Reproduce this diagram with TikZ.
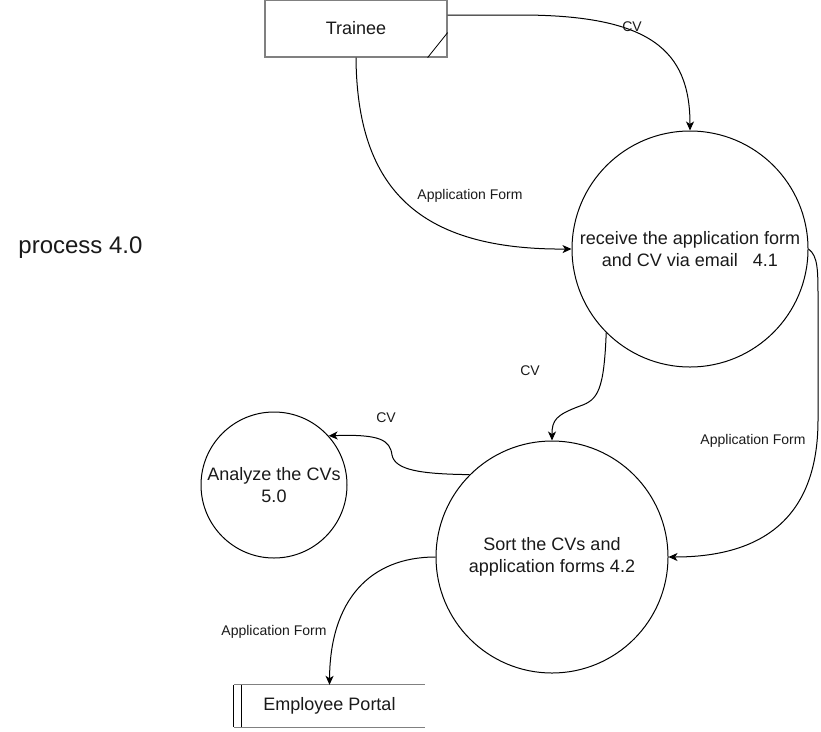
\documentclass[tikz,border=0pt]{standalone}
\usepackage{fontspec}
\setmainfont{Liberation Sans}
\usetikzlibrary{arrows.meta,calc}
\definecolor{boxgray}{HTML}{808080}
\definecolor{txt}{HTML}{1A1A1A}
\begin{document}
\begin{tikzpicture}[x=1pt,y=-1pt,
  proc/.style={draw=black, line width=1pt, circle, inner sep=0pt, align=center, text=txt, font=\fontsize{18}{22}\selectfont},
  flow/.style={draw=black, line width=1pt, -{Stealth[length=9pt,width=8pt,inset=2.5pt]}},
  lbl/.style={font=\fontsize{14}{16}\selectfont, inner sep=0pt, text=txt},
  ]
\useasboundingbox[fill=white] (0,0) rectangle (821,731);

% external entity
\node[draw=boxgray, line width=1.2pt, minimum width=182pt, minimum height=57pt, inner sep=0pt,
      text=txt, font=\fontsize{18}{22}\selectfont] (tr) at (356,28.5) {Trainee};
\draw[line width=0.8pt] ([xshift=-20pt]tr.south east) -- ([yshift=25pt]tr.south east);

% processes
\node[proc, minimum size=236pt] (p41) at (690,249) {receive the application form\\and CV via email\ \ \ 4.1};
\node[proc, minimum size=232pt] (p42) at (552,557) {Sort the CVs and\\application forms 4.2};
\node[proc, minimum size=146pt] (p50) at (274,485) {Analyze the CVs\\5.0};

% data store
\node[minimum width=191pt, minimum height=42pt, inner sep=0pt, text=txt,
      font=\fontsize{18}{22}\selectfont] (ep) at (329.5,706) {Employee Portal};
\draw[boxgray, line width=1.3pt] (ep.north west) -- (ep.north east);
\draw[boxgray, line width=1.3pt] (ep.south west) -- (ep.south east);
\draw[line width=0.9pt] (ep.north west) -- (ep.south west);
\draw[line width=0.9pt] ([xshift=8pt]ep.north west) -- ([xshift=8pt]ep.south west);

% title
\node[font=\fontsize{24}{28}\selectfont, text=txt, inner sep=0pt] (title) at (80.5,248) {process 4.0};

% flows
\draw[flow] ([yshift=13.5pt]tr.east) -- (520,15) .. controls (650,15) and (690,50) .. (p41.north);
\draw[flow] (tr.south) .. controls (357,190) and (420,250) .. (p41.west);
\draw[flow] (p41.225) .. controls (604,390) and (598,400) .. (580,406) .. controls (556,415) and (552,420) .. (p42.north);
\draw[flow] (p41.east) .. controls (818,256) and (818,270) .. (818,300) -- (818,420) .. controls (818,520) and (760,557) .. (p42.east);
\draw[flow] (p42.135) .. controls (420,474) and (395,470) .. (392,455) .. controls (390,440) and (380,434) .. (p50.42);
\draw[flow] (p42.west) .. controls (370,557) and (330,600) .. (ep.north);

% labels
\node[lbl] (l1) at (632,27) {CV};
\node[lbl] (l2) at (470,196) {Application Form};
\node[lbl] (l3) at (530,371) {CV};
\node[lbl] (l4) at (386,418) {CV};
\node[lbl] (l5) at (753,441) {Application Form};
\node[lbl] (l6) at (274,632) {Application Form};
\end{tikzpicture}
\end{document}
